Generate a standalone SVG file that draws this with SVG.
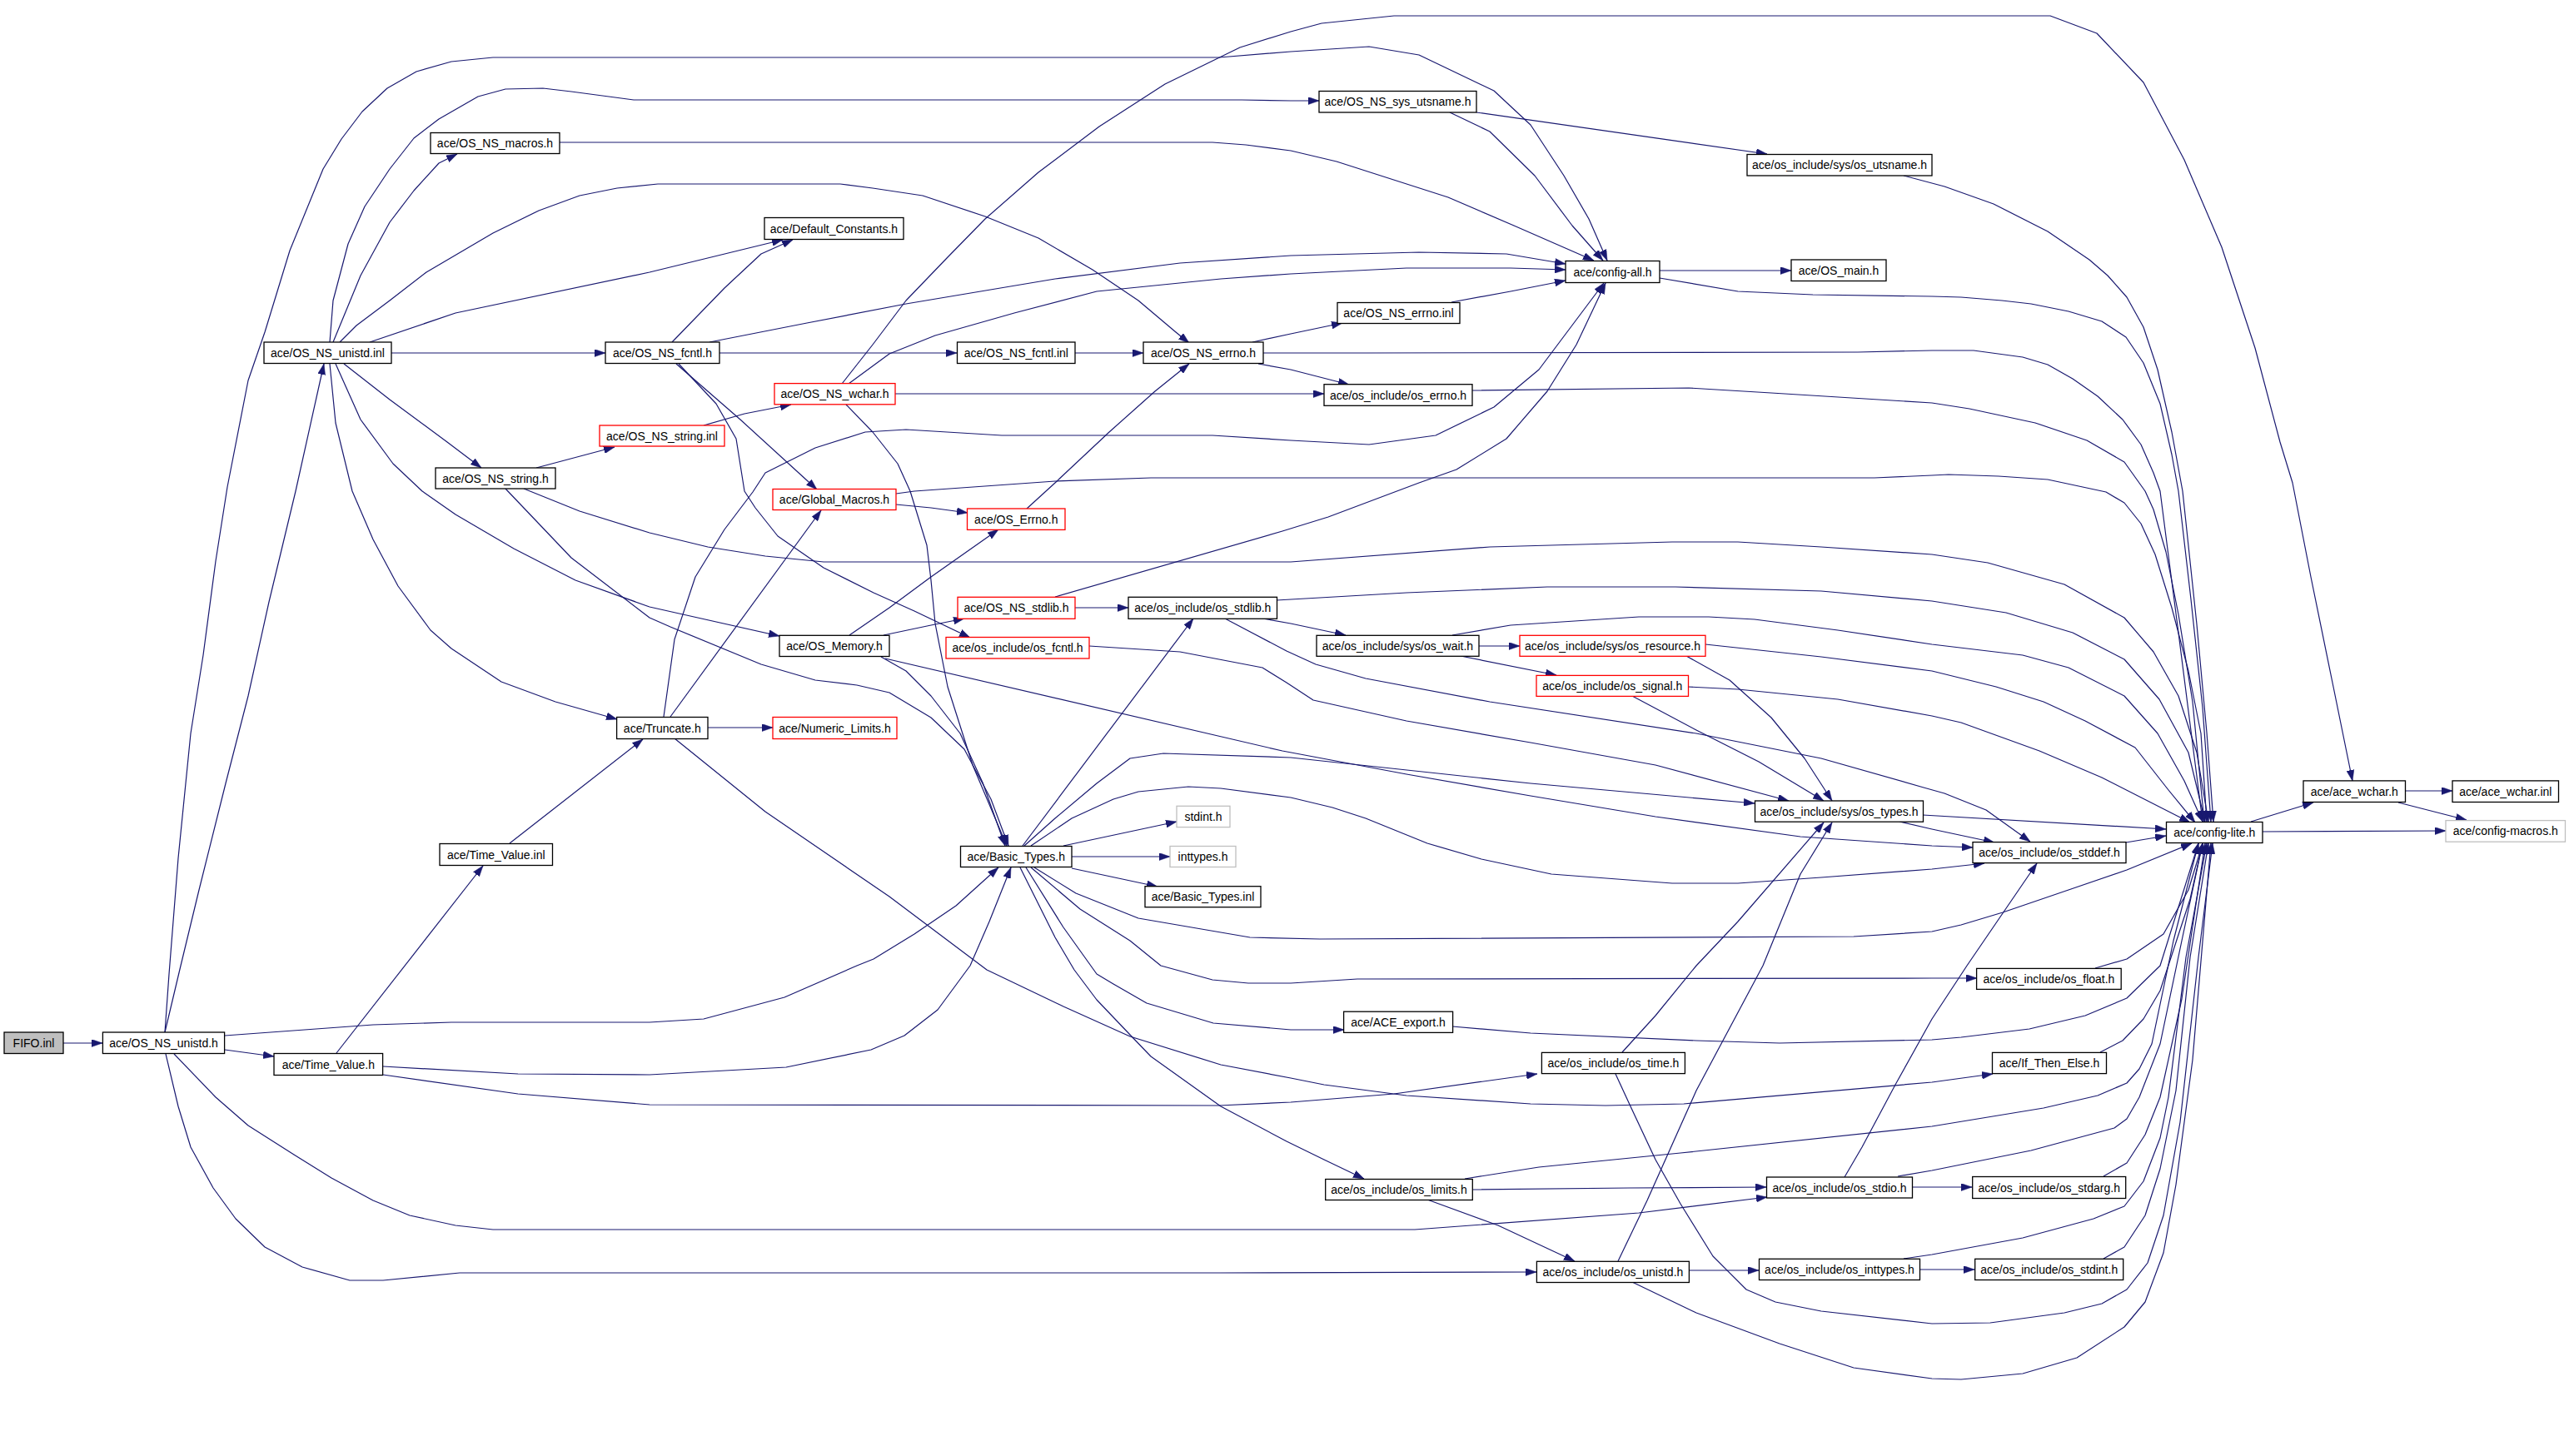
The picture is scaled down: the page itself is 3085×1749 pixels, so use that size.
<svg xmlns="http://www.w3.org/2000/svg" width="3085" height="1749" viewBox="0 0 3085 1749">
<style>
.n rect{fill:#fff;stroke:#000;stroke-width:1.3}
.n.r rect{stroke:#ff0000}
.n.g rect{stroke:#bfbfbf}
.n.s rect{fill:#bfbfbf}
.n text{font-family:"Liberation Sans",Arial,sans-serif;font-size:14px;text-anchor:middle;fill:#000}
#edges path{fill:none;stroke:#191970;stroke-width:1.2;stroke-linejoin:round;marker-end:url(#a)}
</style>
<defs>
<marker id="a" markerUnits="userSpaceOnUse" markerWidth="13" markerHeight="9" refX="13" refY="4.5" orient="auto">
<path d="M0,0 L13,4.5 L0,9 z" fill="#191970" stroke="#191970" stroke-width="0.5"/>
</marker>
</defs>
<rect width="3085" height="1749" fill="#fff"/>
<g id="edges">
<path d="M76,1253 L123,1253"/>
<path d="M198,1240 L217,1160 L239,1069 L271,941 L298,836 L323,723 L355,590 L389,437"/>
<path d="M198,1240 L203,1170 L214,1031 L229,881 L244,787 L259,674 L273,585 L298,457 L318,399 L348,301 L388,203 L410,167 L435,134 L465,106 L500,86 L542,74 L592,69 L1464,69 L1550,62 L1644,56 L1704,66 L1794,109 L1838,150 L1878,211 L1908,263 L1930,313"/>
<path d="M270,1261 L329,1269"/>
<path d="M270,1244 L448,1231 L542,1228 L780,1228 L845,1224 L942,1198 L1029,1160 L1049,1152 L1098,1122 L1148,1088 L1199,1042"/>
<path d="M209,1266 L259,1318 L298,1352 L353,1387 L398,1415 L448,1442 L492,1460 L547,1472 L592,1477 L1699,1477 L1968,1457 L2122,1438"/>
<path d="M199,1266 L214,1329 L229,1378 L256,1427 L283,1464 L318,1498 L363,1522 L420,1538 L460,1538 L552,1529 L1465,1529 L1845,1528"/>
<path d="M404,1265 L580,1040"/>
<path d="M460,1281 L622,1290 L780,1291 L944,1282 L1046,1261 L1086,1244 L1126,1213 L1165,1160 L1188,1107 L1214,1042"/>
<path d="M460,1291 L622,1314 L780,1327 L1464,1328 L1550,1324 L1674,1314 L1846,1290"/>
<path d="M612,1013 L772,888"/>
<path d="M400,411 L433,331 L468,267 L497,229 L527,196 L549,185"/>
<path d="M396,411 L400,361 L418,293 L438,248 L468,203 L497,166 L527,143 L574,116 L607,107 L652,106 L686,110 L761,120 L1491,120 L1550,121 L1584,121"/>
<path d="M408,411 L428,391 L468,361 L512,327 L592,280 L647,253 L696,235 L741,226 L790,221 L1009,221 L1048,226 L1108,235 L1183,260 L1247,286 L1312,324 L1367,361 L1412,399 L1428,412"/>
<path d="M444,411 L547,376 L780,327 L940,288"/>
<path d="M470,424 L727,424"/>
<path d="M413,437 L468,480 L537,531 L578,562"/>
<path d="M403,437 L433,504 L472,557 L507,590 L547,618 L617,659 L691,697 L780,729 L820,738 L936,764"/>
<path d="M396,437 L403,508 L423,590 L448,648 L478,704 L517,757 L542,779 L602,819 L667,843 L741,864"/>
<path d="M644,562 L738,537"/>
<path d="M629,587 L696,614 L780,640 L850,657 L919,668 L989,675 L1550,675 L1789,657 L2008,651 L2087,651 L2187,657 L2320,666 L2387,676 L2479,702 L2551,742 L2586,783 L2616,836 L2638,904 L2652,987"/>
<path d="M607,587 L686,670 L780,742 L805,753 L914,798 L979,817 L1029,823 L1068,832 L1118,862 L1158,900 L1190,960 L1211,1016"/>
<path d="M845,511 L894,497 L950,486"/>
<path d="M807,411 L870,346 L914,305 L952,288"/>
<path d="M864,424 L1149,424"/>
<path d="M852,411 L969,388 L1088,365 L1267,335 L1417,316 L1550,307 L1704,303 L1809,305 L1880,317"/>
<path d="M812,437 L889,504 L981,588"/>
<path d="M815,437 L860,485 L884,527 L894,590 L907,610 L934,644 L989,682 L1049,712 L1098,734 L1165,766"/>
<path d="M1291,424 L1373,424"/>
<path d="M1504,411 L1550,401 L1612,388"/>
<path d="M1511,437 L1550,444 L1620,462"/>
<path d="M1517,424 L1640,424 L2231,423 L2320,421 L2370,421 L2429,429 L2459,438 L2489,455 L2519,476 L2549,504 L2571,534 L2586,568 L2594,590 L2603,660 L2616,760 L2630,870 L2645,987"/>
<path d="M1011,461 L1048,414 L1088,361 L1138,309 L1183,263 L1247,207 L1320,152 L1399,101 L1489,57 L1550,38 L1587,28 L1674,19 L2462,19 L2518,40 L2574,99 L2623,192 L2668,297 L2708,418 L2738,531 L2753,580 L2775,693 L2802,825 L2825,938"/>
<path d="M1019,461 L1068,425 L1123,403 L1218,376 L1317,350 L1466,335 L1550,329 L1689,322 L1814,322 L1880,324"/>
<path d="M1075,473 L1590,473"/>
<path d="M1016,486 L1048,519 L1078,557 L1093,590 L1113,655 L1118,697 L1123,749 L1138,825 L1168,919 L1209,1016"/>
<path d="M1076,606 L1118,610 L1162,616"/>
<path d="M1076,593 L1098,590 L1267,578 L1382,574 L2251,574 L2320,571 L2340,570 L2400,572 L2459,576 L2529,591 L2551,604 L2571,629 L2588,666 L2608,730 L2628,806 L2643,881 L2650,987"/>
<path d="M1233,611 L1267,580 L1332,519 L1387,470 L1428,437"/>
<path d="M1020,763 L1068,730 L1118,693 L1199,636"/>
<path d="M1061,763 L1118,751 L1158,743"/>
<path d="M1058,789 L1088,806 L1118,836 L1153,881 L1180,940 L1207,1016"/>
<path d="M1063,791 L1540,902 L1689,930 L1838,956 L1988,981 L2162,1005 L2320,1016 L2369,1018"/>
<path d="M1291,730 L1355,730"/>
<path d="M1267,717 L1540,638 L1595,621 L1704,580 L1749,564 L1809,527 L1858,470 L1893,414 L1928,340"/>
<path d="M1533,721 L1689,712 L1858,705 L2012,705 L2187,710 L2320,722 L2409,736 L2489,760 L2551,792 L2593,840 L2628,904 L2648,987"/>
<path d="M1516,743 L1550,749 L1616,763"/>
<path d="M1471,743 L1545,782 L1580,798 L1640,815 L1789,843 L2037,881 L2187,911 L2310,946 L2335,953 L2385,973 L2438,1011"/>
<path d="M1776,776 L1825,776"/>
<path d="M1754,788 L1869,811"/>
<path d="M1744,763 L1814,751 L1968,741 L2052,741 L2107,744 L2207,757 L2320,774 L2429,787 L2484,802 L2551,836 L2591,881 L2623,938 L2645,987"/>
<path d="M2025,788 L2077,817 L2127,862 L2167,911 L2200,962"/>
<path d="M2048,774 L2187,789 L2320,806 L2397,825 L2454,843 L2504,866 L2564,898 L2604,949 L2636,988"/>
<path d="M1960,836 L2037,877 L2112,915 L2190,962"/>
<path d="M2027,825 L2087,828 L2207,840 L2320,860 L2355,868 L2449,902 L2524,934 L2630,988"/>
<path d="M2309,979 L2601,996"/>
<path d="M2281,987 L2320,996 L2395,1012"/>
<path d="M1308,776 L1417,783 L1516,802 L1545,820 L1577,841 L1689,866 L1838,892 L1988,919 L2148,962"/>
<path d="M2553,1012 L2601,1004"/>
<path d="M1277,1016 L1413,987"/>
<path d="M1287,1029 L1405,1029"/>
<path d="M1287,1043 L1390,1065"/>
<path d="M1228,1016 L1433,743"/>
<path d="M1230,1016 L1267,983 L1317,941 L1357,911 L1397,905 L1550,910 L1838,941 L2107,965"/>
<path d="M1238,1016 L1287,983 L1337,960 L1367,951 L1427,945 L1466,947 L1550,958 L1600,970 L1640,983 L1714,1013 L1779,1032 L1863,1050 L2008,1061 L2087,1061 L2187,1054 L2320,1044 L2383,1037"/>
<path d="M1242,1042 L1292,1073 L1367,1103 L1501,1126 L1585,1128 L2226,1125 L2320,1119 L2355,1111 L2405,1096 L2484,1069 L2554,1045 L2632,1013"/>
<path d="M1238,1042 L1297,1092 L1357,1130 L1394,1160 L1456,1177 L1499,1181 L1550,1181 L1630,1176 L2320,1175 L2374,1175"/>
<path d="M1232,1042 L1277,1114 L1317,1170 L1337,1182 L1377,1205 L1457,1229 L1550,1237 L1614,1237"/>
<path d="M1225,1042 L1267,1126 L1290,1165 L1317,1201 L1357,1243 L1382,1269 L1466,1329 L1545,1371 L1590,1393 L1638,1416"/>
<path d="M810,887 L919,975 L1068,1077 L1185,1165 L1277,1209 L1357,1245 L1466,1279 L1550,1295 L1590,1303 L1689,1316 L1838,1326 L1928,1328 L2022,1326 L2320,1300 L2393,1290"/>
<path d="M797,861 L810,768 L835,693 L870,636 L904,591 L919,568 L979,538 L1039,519 L1088,516 L1203,523 L1456,523 L1550,529 L1644,534 L1724,523 L1794,489 L1848,444 L1926,340"/>
<path d="M805,861 L986,613"/>
<path d="M850,874 L928,874"/>
<path d="M1768,1429 L1956,1427 L2121,1426"/>
<path d="M1714,1441 L1799,1472 L1891,1515"/>
<path d="M1759,1416 L1848,1402 L2018,1385 L2320,1353 L2454,1331 L2519,1316 L2554,1301 L2569,1284 L2584,1254 L2610,1130 L2640,1013"/>
<path d="M2296,1426 L2368,1426"/>
<path d="M2215,1414 L2236,1378 L2276,1303 L2320,1224 L2362,1160 L2446,1037"/>
<path d="M2279,1413 L2320,1406 L2439,1382 L2539,1355 L2554,1344 L2569,1318 L2594,1254 L2620,1130 L2645,1013"/>
<path d="M2526,1413 L2554,1397 L2576,1363 L2594,1318 L2620,1200 L2648,1013"/>
<path d="M1943,1515 L1978,1442 L2037,1310 L2117,1160 L2162,1050 L2200,988"/>
<path d="M2028,1526 L2112,1526"/>
<path d="M1960,1540 L2037,1577 L2137,1614 L2226,1643 L2320,1656 L2355,1657 L2429,1650 L2494,1631 L2551,1594 L2576,1564 L2598,1505 L2613,1423 L2633,1273 L2655,1013"/>
<path d="M2305,1525 L2371,1525"/>
<path d="M2286,1512 L2320,1507 L2429,1487 L2514,1464 L2551,1449 L2574,1419 L2594,1367 L2604,1318 L2625,1150 L2650,1013"/>
<path d="M2526,1512 L2551,1498 L2576,1460 L2594,1404 L2613,1310 L2630,1150 L2652,1013"/>
<path d="M1948,1264 L1988,1220 L2037,1160 L2087,1107 L2190,988"/>
<path d="M1940,1290 L1958,1329 L1988,1393 L2018,1446 L2057,1509 L2097,1549 L2132,1564 L2187,1575 L2320,1590 L2390,1589 L2479,1577 L2524,1566 L2554,1549 L2579,1517 L2598,1460 L2618,1348 L2640,1150 L2657,1013"/>
<path d="M2522,1264 L2549,1250 L2574,1224 L2594,1190 L2630,1080 L2645,1013"/>
<path d="M1744,1233 L1838,1241 L2037,1250 L2137,1253 L2320,1249 L2355,1246 L2437,1236 L2504,1220 L2554,1199 L2594,1160 L2640,1013"/>
<path d="M2516,1163 L2554,1152 L2598,1122 L2628,1069 L2645,1013"/>
<path d="M2703,987 L2778,964"/>
<path d="M2717,999 L2937,998"/>
<path d="M2888,950 L2945,950"/>
<path d="M2880,964 L2962,985"/>
<path d="M1993,325 L2151,325"/>
<path d="M1993,334 L2087,350 L2177,354 L2320,356 L2355,357 L2404,361 L2439,365 L2484,374 L2524,386 L2553,405 L2574,436 L2594,485 L2608,546 L2616,590 L2631,720 L2645,850 L2655,987"/>
<path d="M2286,211 L2335,224 L2394,245 L2459,278 L2509,312 L2531,331 L2554,357 L2574,393 L2591,444 L2608,519 L2621,590 L2638,750 L2650,880 L2658,987"/>
<path d="M1741,135 L1789,158 L1843,211 L1888,271 L1925,313"/>
<path d="M1773,135 L2122,185"/>
<path d="M672,171 L1456,171 L1496,174 L1550,181 L1605,194 L1739,237 L1818,271 L1914,313"/>
<path d="M1768,469 L2028,466 L2127,472 L2320,484 L2365,491 L2444,508 L2506,529 L2551,555 L2576,590 L2586,612 L2601,663 L2616,738 L2633,843 L2647,987"/>
<path d="M1743,363 L1814,350 L1880,337"/>
</g>
<g id="n-fifo" class="n s"><rect x="5" y="1240" width="71" height="25.5"/><text x="40.5" y="1257.7">FIFO.inl</text></g>
<g id="n-os_ns_unistd_h" class="n"><rect x="123.4" y="1240" width="146.2" height="25.5"/><text x="196.5" y="1257.7">ace/OS_NS_unistd.h</text></g>
<g id="n-time_value_h" class="n"><rect x="329" y="1265.5" width="130.6" height="26"/><text x="394.3" y="1283.5">ace/Time_Value.h</text></g>
<g id="n-time_value_inl" class="n"><rect x="528" y="1013.5" width="135.5" height="26"/><text x="595.8" y="1031.5">ace/Time_Value.inl</text></g>
<g id="n-os_ns_unistd_inl" class="n"><rect x="317" y="411" width="153" height="25.5"/><text x="393.5" y="428.8">ace/OS_NS_unistd.inl</text></g>
<g id="n-os_ns_macros" class="n"><rect x="517" y="159.5" width="155" height="25"/><text x="594.5" y="177">ace/OS_NS_macros.h</text></g>
<g id="n-os_ns_string_h" class="n"><rect x="523" y="562" width="144" height="25"/><text x="595" y="579.5">ace/OS_NS_string.h</text></g>
<g id="n-os_ns_string_inl" class="n r"><rect x="720" y="511" width="150" height="25"/><text x="795" y="528.5">ace/OS_NS_string.inl</text></g>
<g id="n-os_ns_fcntl_h" class="n"><rect x="727" y="411" width="137" height="25.5"/><text x="795.5" y="428.8">ace/OS_NS_fcntl.h</text></g>
<g id="n-default_constants" class="n"><rect x="918" y="261.5" width="167" height="26"/><text x="1001.5" y="279.5">ace/Default_Constants.h</text></g>
<g id="n-os_ns_fcntl_inl" class="n"><rect x="1149.5" y="411" width="141.5" height="25.5"/><text x="1220.3" y="428.8">ace/OS_NS_fcntl.inl</text></g>
<g id="n-os_ns_errno_h" class="n"><rect x="1373" y="411" width="144" height="25.5"/><text x="1445" y="428.8">ace/OS_NS_errno.h</text></g>
<g id="n-os_ns_wchar" class="n r"><rect x="930" y="460.6" width="145" height="25.2"/><text x="1002.5" y="478.2">ace/OS_NS_wchar.h</text></g>
<g id="n-global_macros" class="n r"><rect x="928" y="587.5" width="148" height="25"/><text x="1002" y="605">ace/Global_Macros.h</text></g>
<g id="n-os_errno" class="n r"><rect x="1161.5" y="611" width="117.5" height="25.4"/><text x="1220.3" y="628.7">ace/OS_Errno.h</text></g>
<g id="n-os_ns_stdlib" class="n r"><rect x="1150" y="717.3" width="141" height="26"/><text x="1220.5" y="735.3">ace/OS_NS_stdlib.h</text></g>
<g id="n-os_stdlib" class="n"><rect x="1355" y="717.3" width="178.5" height="26"/><text x="1444.3" y="735.3">ace/os_include/os_stdlib.h</text></g>
<g id="n-os_memory" class="n"><rect x="936" y="763.3" width="132" height="25.2"/><text x="1002" y="780.9">ace/OS_Memory.h</text></g>
<g id="n-os_fcntl" class="n r"><rect x="1136" y="765.5" width="172" height="25.5"/><text x="1222" y="783.2">ace/os_include/os_fcntl.h</text></g>
<g id="n-truncate" class="n"><rect x="740.6" y="861.5" width="109.4" height="26"/><text x="795.3" y="879.5">ace/Truncate.h</text></g>
<g id="n-numeric_limits" class="n r"><rect x="928" y="861.5" width="149" height="26"/><text x="1002.5" y="879.5">ace/Numeric_Limits.h</text></g>
<g id="n-stdint" class="n g"><rect x="1413" y="968.3" width="64" height="25.3"/><text x="1445" y="985.9">stdint.h</text></g>
<g id="n-inttypes" class="n g"><rect x="1405" y="1016.5" width="79" height="25"/><text x="1444.5" y="1034">inttypes.h</text></g>
<g id="n-basic_types_h" class="n"><rect x="1153.5" y="1016.5" width="133.5" height="25"/><text x="1220.3" y="1034">ace/Basic_Types.h</text></g>
<g id="n-basic_types_inl" class="n"><rect x="1375" y="1064.7" width="139" height="25"/><text x="1444.5" y="1082.2">ace/Basic_Types.inl</text></g>
<g id="n-os_ns_sys_utsname" class="n"><rect x="1584" y="109.5" width="189" height="25.5"/><text x="1678.5" y="127.2">ace/OS_NS_sys_utsname.h</text></g>
<g id="n-os_utsname" class="n"><rect x="2098" y="185.5" width="222" height="25.5"/><text x="2209" y="203.2">ace/os_include/sys/os_utsname.h</text></g>
<g id="n-config_all" class="n"><rect x="1880" y="313.5" width="113" height="26"/><text x="1936.5" y="331.5">ace/config-all.h</text></g>
<g id="n-os_main" class="n"><rect x="2151" y="312" width="114" height="25.5"/><text x="2208" y="329.7">ace/OS_main.h</text></g>
<g id="n-os_ns_errno_inl" class="n"><rect x="1606" y="363.5" width="147" height="25"/><text x="1679.5" y="381">ace/OS_NS_errno.inl</text></g>
<g id="n-os_errno_h" class="n"><rect x="1590" y="461.7" width="178" height="25.6"/><text x="1679" y="479.5">ace/os_include/os_errno.h</text></g>
<g id="n-os_wait" class="n"><rect x="1581" y="763.3" width="195" height="25"/><text x="1678.5" y="780.8">ace/os_include/sys/os_wait.h</text></g>
<g id="n-os_resource" class="n r"><rect x="1825" y="763.3" width="223" height="25"/><text x="1936.5" y="780.8">ace/os_include/sys/os_resource.h</text></g>
<g id="n-os_signal" class="n r"><rect x="1845" y="811.4" width="182.5" height="25"/><text x="1936.3" y="828.9">ace/os_include/os_signal.h</text></g>
<g id="n-os_types" class="n"><rect x="2107.5" y="962" width="202" height="25.2"/><text x="2208.5" y="979.6">ace/os_include/sys/os_types.h</text></g>
<g id="n-os_stddef" class="n"><rect x="2369" y="1011.6" width="184" height="25"/><text x="2461" y="1029.1">ace/os_include/os_stddef.h</text></g>
<g id="n-config_lite" class="n"><rect x="2601.5" y="987.5" width="115.5" height="25"/><text x="2659.3" y="1005">ace/config-lite.h</text></g>
<g id="n-ace_wchar_h" class="n"><rect x="2766" y="937.9" width="122.5" height="25.6"/><text x="2827.3" y="955.7">ace/ace_wchar.h</text></g>
<g id="n-ace_wchar_inl" class="n"><rect x="2945" y="937.9" width="127.5" height="25.6"/><text x="3008.8" y="955.7">ace/ace_wchar.inl</text></g>
<g id="n-config_macros" class="n g"><rect x="2937" y="985.6" width="143.5" height="25.6"/><text x="3008.8" y="1003.4">ace/config-macros.h</text></g>
<g id="n-os_float" class="n"><rect x="2373.6" y="1163.4" width="173.6" height="25"/><text x="2460.4" y="1180.9">ace/os_include/os_float.h</text></g>
<g id="n-ace_export" class="n"><rect x="1613.6" y="1215.2" width="131" height="25.2"/><text x="1679.1" y="1232.8">ace/ACE_export.h</text></g>
<g id="n-os_time" class="n"><rect x="1851.4" y="1264.4" width="172" height="25.2"/><text x="1937.4" y="1282">ace/os_include/os_time.h</text></g>
<g id="n-if_then_else" class="n"><rect x="2392.5" y="1264.4" width="137" height="25.2"/><text x="2461" y="1282">ace/If_Then_Else.h</text></g>
<g id="n-os_limits" class="n"><rect x="1591.7" y="1416.5" width="176.6" height="25"/><text x="1680" y="1434">ace/os_include/os_limits.h</text></g>
<g id="n-os_stdio" class="n"><rect x="2121.5" y="1414" width="175" height="25"/><text x="2209" y="1431.5">ace/os_include/os_stdio.h</text></g>
<g id="n-os_stdarg" class="n"><rect x="2368.7" y="1413.5" width="184" height="26"/><text x="2460.7" y="1431.5">ace/os_include/os_stdarg.h</text></g>
<g id="n-os_unistd" class="n"><rect x="1845.4" y="1515.3" width="183" height="25.2"/><text x="1936.9" y="1532.9">ace/os_include/os_unistd.h</text></g>
<g id="n-os_inttypes" class="n"><rect x="2112.5" y="1512.3" width="193" height="25.2"/><text x="2209" y="1529.9">ace/os_include/os_inttypes.h</text></g>
<g id="n-os_stdint" class="n"><rect x="2371.7" y="1512.3" width="178" height="25.2"/><text x="2460.7" y="1529.9">ace/os_include/os_stdint.h</text></g>
</svg>
